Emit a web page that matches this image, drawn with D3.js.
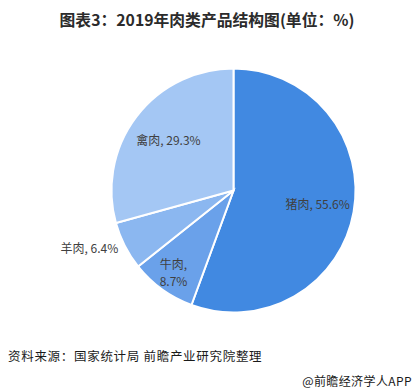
<!DOCTYPE html>
<html>
<head>
<meta charset="utf-8">
<script src="https://cdn.jsdelivr.net/npm/d3@7"></script>
<style>
html,body{margin:0;padding:0;background:#fff;}
svg{display:block;}
</style>
</head>
<body>
<svg id="chart" width="415" height="389"></svg>
<script>
const categories = ["猪肉", "牛肉", "羊肉", "禽肉"];
const values = [55.6, 8.7, 6.4, 29.3];
const colors = ["#4189e1", "#6aa1ea", "#8bb7f0", "#a4c7f4"];
const titleText = "图表3：2019年肉类产品结构图(单位：%)";
const sourceText = "资料来源：国家统计局 前瞻产业研究院整理";
const brandText = "@前瞻经济学人APP";

const svg = d3.select("#chart");
const W = 415, H = 389;
const cx = 233.5, cy = 190.5, R = 122;
const font = "'Noto Sans CJK SC', 'Microsoft YaHei', sans-serif";

svg.append("text")
  .attr("x", 207).attr("y", 26)
  .attr("text-anchor", "middle")
  .attr("font-family", font)
  .attr("font-weight", "bold")
  .attr("font-size", 15.8)
  .attr("fill", "#2b2b2b")
  .text(titleText);

const data = categories.map((c, i) => ({ name: c, value: values[i], color: colors[i] }));
const pie = d3.pie().sort(null).value(d => d.value);
const arcs = pie(data);
const arc = d3.arc().innerRadius(0).outerRadius(R);

const g = svg.append("g").attr("transform", `translate(${cx},${cy})`);
g.selectAll("path.slice").data(arcs).enter().append("path")
  .attr("class", "slice")
  .attr("d", arc)
  .attr("fill", d => d.data.color)
  .attr("stroke", "#fff")
  .attr("stroke-width", 2);

// label layout: radius factor per slice, and whether label is split into two lines
const labelLayout = {
  "猪肉": { r: 0.70, lines: 1, anchor: "middle" },
  "牛肉": { r: 0.84, lines: 2, anchor: "middle" },
  "羊肉": { r: 1.06, lines: 1, anchor: "end" },
  "禽肉": { r: 0.67, lines: 1, anchor: "middle" }
};

arcs.forEach(a => {
  const L = labelLayout[a.data.name];
  const mid = (a.startAngle + a.endAngle) / 2;
  const x = Math.sin(mid) * R * L.r;
  const y = -Math.cos(mid) * R * L.r;
  const t = g.append("text")
    .attr("font-family", font)
    .attr("font-size", 12)
    .attr("fill", "#404040")
    .attr("text-anchor", L.anchor);
  const pct = a.data.value.toFixed(1) + "%";
  if (L.lines === 2) {
    t.append("tspan").attr("x", x).attr("y", y - 8.5 + 4).text(a.data.name + ",");
    t.append("tspan").attr("x", x).attr("y", y + 8.5 + 4).text(pct);
  } else {
    t.attr("x", x).attr("y", y + 4).text(a.data.name + ", " + pct);
  }
});

svg.append("text")
  .attr("x", 8).attr("y", 361)
  .attr("font-family", font)
  .attr("font-size", 12.5)
  .attr("letter-spacing", 0.7)
  .attr("fill", "#1a1a1a")
  .text(sourceText);

svg.append("text")
  .attr("x", 412).attr("y", 386)
  .attr("text-anchor", "end")
  .attr("font-family", font)
  .attr("font-size", 12)
  .attr("letter-spacing", 0.4)
  .attr("fill", "#1a1a1a")
  .text(brandText);
</script>
</body>
</html>
